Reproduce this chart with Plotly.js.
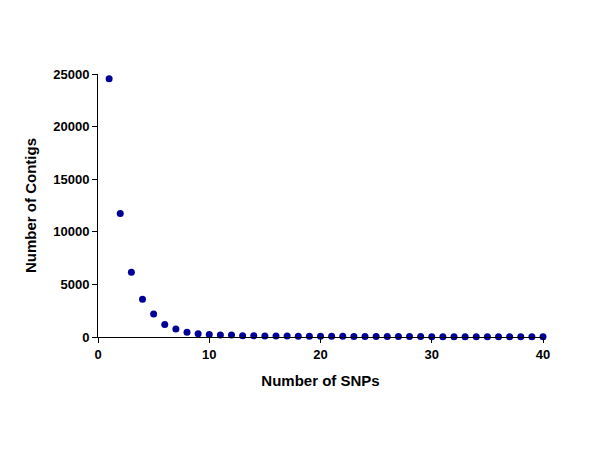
<!DOCTYPE html>
<html><head><meta charset="utf-8">
<script src="https://cdn.plot.ly/plotly-3.0.1.min.js"></script>
<style>html,body{margin:0;padding:0;background:#fff}#c{width:600px;height:450px}</style>
</head><body><div id="c"></div>
<script>
const snps = [1,2,3,4,5,6,7,8,9,10,11,12,13,14,15,16,17,18,19,20,21,22,23,24,25,26,27,28,29,30,31,32,33,34,35,36,37,38,39,40];
const contigs = [24550,11750,6150,3600,2190,1180,760,450,320,230,190,180,120,110,100,90,85,80,75,70,65,60,55,50,48,45,42,40,38,35,33,31,30,28,27,25,24,22,21,20];
const xTicks = [0,10,20,30,40];
const yTicks = [0,5000,10000,15000,20000,25000];
const yTickText = ['0','5000','10000','15000','20000','25000'];

const fam = 'Liberation Sans, Arial, sans-serif';
const tickFont = {family:fam, size:13, color:'#000', weight:'bold'};
const titleFont = {family:fam, size:15, color:'#000', weight:'bold'};
Plotly.newPlot('c', [{
  x: snps, y: contigs, type:'scatter', mode:'markers',
  marker:{color:'#000099', size:7}, cliponaxis:false
}], {
  width:600, height:450,
  margin:{l:98, r:57, t:74, b:113},
  paper_bgcolor:'#fff', plot_bgcolor:'#fff',
  showlegend:false,
  xaxis:{range:[0,40], tickvals:xTicks, ticktext:xTicks.map(String), ticks:'outside', ticklen:5, tickcolor:'#000',
    showline:true, linecolor:'#000', linewidth:1, showgrid:false, zeroline:false,
    tickfont:tickFont,
    title:{text:'Number of SNPs', font:titleFont, standoff:14}},
  yaxis:{range:[0,25000], tickvals:yTicks, ticktext:yTickText, ticks:'outside', ticklen:5, tickcolor:'#000',
    showline:true, linecolor:'#000', linewidth:1, showgrid:false, zeroline:false,
    tickfont:tickFont,
    title:{text:'Number of Contigs', font:titleFont, standoff:12}}
}, {displayModeBar:false, staticPlot:true});
</script></body></html>
